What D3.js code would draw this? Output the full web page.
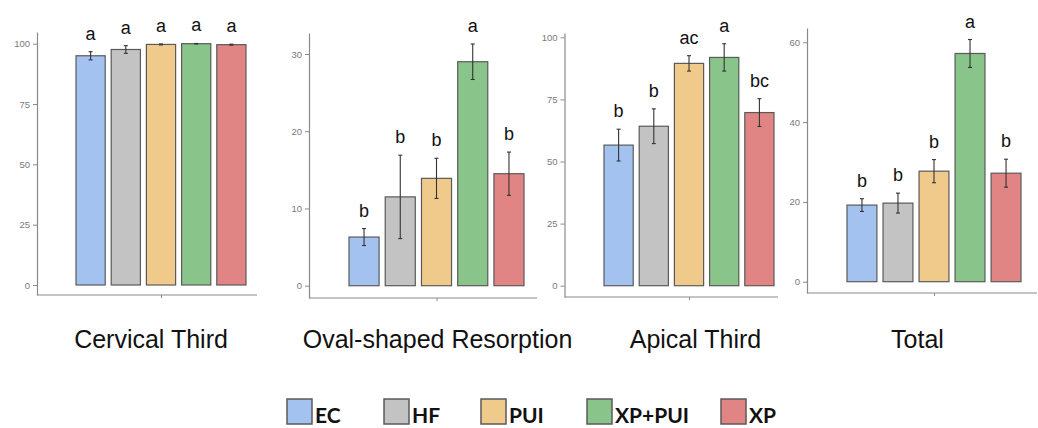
<!DOCTYPE html>
<html><head><meta charset="utf-8">
<script src="https://cdn.jsdelivr.net/npm/d3@7"></script>
<style>body{margin:0;background:#fff}svg{display:block}</style>
</head><body>
<svg id="chart" width="1038" height="428"></svg>
<script>
// ---- data ----
const groups = ["EC", "HF", "PUI", "XP+PUI", "XP"];
const colors = ["#a3c2ef", "#c3c3c3", "#f0ca8b", "#89c48b", "#e08583"];
const panelTitles = ["Cervical Third", "Oval-shaped Resorption", "Apical Third", "Total"];

const cervicalValues = [95.0, 97.6, 99.7, 100.0, 99.6];
const cervicalErrors = [1.7, 1.6, 0.2, 0.1, 0.2];
const cervicalLetters = ["a", "a", "a", "a", "a"];
const cervicalTicks = [0, 25, 50, 75, 100];

const ovalValues = [6.3, 11.5, 13.9, 29.0, 14.5];
const ovalErrors = [1.1, 5.4, 2.6, 2.3, 2.8];
const ovalLetters = ["b", "b", "b", "a", "b"];
const ovalTicks = [0, 10, 20, 30];

const apicalValues = [56.6, 64.2, 89.5, 91.9, 69.7];
const apicalErrors = [6.4, 7.0, 3.1, 5.5, 5.6];
const apicalLetters = ["b", "b", "ac", "a", "bc"];
const apicalTicks = [0, 25, 50, 75, 100];

const totalValues = [19.2, 19.7, 27.7, 57.2, 27.2];
const totalErrors = [1.6, 2.5, 2.9, 3.5, 3.5];
const totalLetters = ["b", "b", "b", "a", "b"];
const totalTicks = [0, 20, 40, 60];

// ---- layout ----
const panels = [
  {values: cervicalValues, errors: cervicalErrors, letters: cervicalLetters, ticks: cervicalTicks,
   axisX: 37, rightX: 257, topY: 32, bottomY: 295, zeroY: 285, maxY: 43.7, barL: 76, barR: 246, titleX: 151},
  {values: ovalValues, errors: ovalErrors, letters: ovalLetters, ticks: ovalTicks,
   axisX: 309, rightX: 537, topY: 33, bottomY: 298, zeroY: 285.7, maxY: 54, barL: 349, barR: 524, titleX: 437.5},
  {values: apicalValues, errors: apicalErrors, letters: apicalLetters, ticks: apicalTicks,
   axisX: 564.5, rightX: 778, topY: 33, bottomY: 297, zeroY: 285.7, maxY: 37.3, barL: 604, barR: 774, titleX: 695.5},
  {values: totalValues, errors: totalErrors, letters: totalLetters, ticks: totalTicks,
   axisX: 807, rightX: 1037, topY: 28, bottomY: 293, zeroY: 281.7, maxY: 42.3, barL: 847, barR: 1021, titleX: 917.5}
];

const svg = d3.select("#chart");
const axisColor = "#8a8a8a";

panels.forEach((p, pi) => {
  const maxTick = p.ticks[p.ticks.length - 1];
  const y = d3.scaleLinear().domain([0, maxTick]).range([p.zeroY, p.maxY]);
  const yExt = d3.scaleLinear().domain([y.invert(p.bottomY), y.invert(p.topY)]).range([p.bottomY, p.topY]);
  const x = d3.scaleBand().domain(groups).range([p.barL, p.barR]).paddingInner(0.17).paddingOuter(0);

  const g = svg.append("g");

  // y axis
  const ya = g.append("g").attr("transform", `translate(${p.axisX},0)`)
    .call(d3.axisLeft(yExt).tickValues(p.ticks).tickSize(4).tickSizeOuter(0).tickPadding(3));
  ya.select(".domain").attr("stroke", axisColor).attr("stroke-width", 1.2);
  ya.selectAll(".tick line").attr("stroke", axisColor).attr("stroke-width", 1);
  ya.selectAll(".tick text").attr("fill", "#7a7a7a").style("font", "9.5px 'Liberation Sans', Arial, sans-serif");

  // x axis
  const xa = g.append("g").attr("transform", `translate(0,${p.bottomY})`)
    .call(d3.axisBottom(d3.scalePoint().domain([""]).range([p.axisX, p.rightX]).padding(0.5))
      .tickSize(3).tickSizeOuter(0).tickFormat(""));
  xa.select(".domain").attr("stroke", axisColor).attr("stroke-width", 1.2)
    .attr("d", `M${p.axisX},0H${p.rightX}`);
  xa.selectAll(".tick line").attr("stroke", axisColor)
    .attr("transform", `translate(${(p.barL + p.barR) / 2 - (p.axisX + p.rightX) / 2},0)`);

  // bars
  g.selectAll("rect.bar").data(groups).join("rect")
    .attr("class", "bar")
    .attr("x", d => x(d))
    .attr("width", x.bandwidth())
    .attr("y", (d, i) => y(p.values[i]))
    .attr("height", (d, i) => y(0) - y(p.values[i]))
    .attr("fill", (d, i) => colors[i])
    .attr("stroke", "#5a5a5a")
    .attr("stroke-width", 1.2);

  // error bars
  const eb = g.selectAll("g.err").data(groups).join("g").attr("class", "err");
  eb.append("line")
    .attr("x1", d => x(d) + x.bandwidth() / 2).attr("x2", d => x(d) + x.bandwidth() / 2)
    .attr("y1", (d, i) => y(p.values[i] + p.errors[i]))
    .attr("y2", (d, i) => y(p.values[i] - p.errors[i]))
    .attr("stroke", "#333").attr("stroke-width", 1.1);
  [1, -1].forEach(s => {
    eb.append("line")
      .attr("x1", d => x(d) + x.bandwidth() / 2 - 2).attr("x2", d => x(d) + x.bandwidth() / 2 + 2)
      .attr("y1", (d, i) => y(p.values[i] + s * p.errors[i]))
      .attr("y2", (d, i) => y(p.values[i] + s * p.errors[i]))
      .attr("stroke", "#333").attr("stroke-width", 1.1);
  });

  // letters
  g.selectAll("text.letter").data(groups).join("text")
    .attr("class", "letter")
    .attr("x", d => x(d) + x.bandwidth() / 2)
    .attr("y", (d, i) => y(p.values[i] + p.errors[i]) - 12)
    .attr("text-anchor", "middle")
    .style("font", "18px 'Liberation Sans', Arial, sans-serif")
    .attr("fill", "#111")
    .text((d, i) => p.letters[i]);

  // title
  g.append("text")
    .attr("x", p.titleX).attr("y", 348)
    .attr("text-anchor", "middle")
    .style("font", "25px 'Liberation Sans', Arial, sans-serif")
    .attr("fill", "#111")
    .text(panelTitles[pi]);
});

// legend
const legendX = [287, 384, 481, 587, 721];
const lg = svg.append("g");
groups.forEach((gname, i) => {
  lg.append("rect").attr("x", legendX[i]).attr("y", 399).attr("width", 25).attr("height", 25)
    .attr("fill", colors[i]).attr("stroke", "#5a5a5a").attr("stroke-width", 1.5);
  lg.append("text").attr("x", legendX[i] + 28).attr("y", 423)
    .style("font", "bold 21px Lato, 'Open Sans', sans-serif").attr("fill", "#111")
    .text(gname);
});
</script>
</body></html>
